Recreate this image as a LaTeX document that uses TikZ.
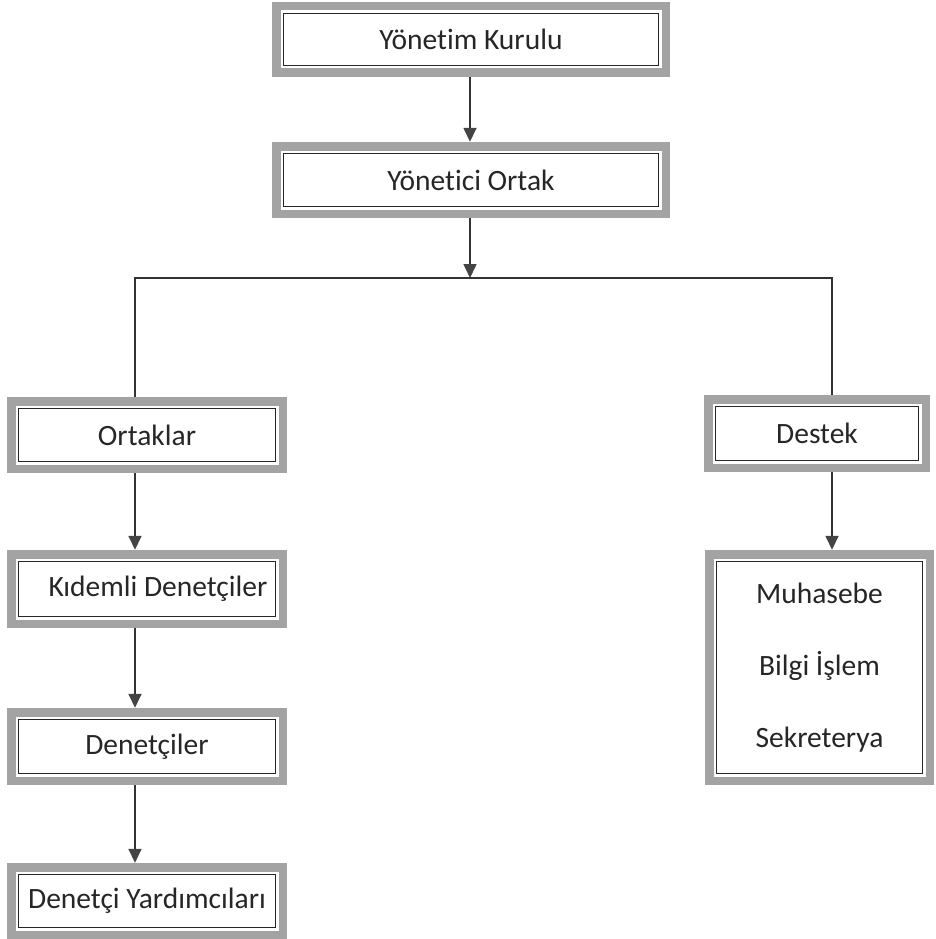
\documentclass[tikz,border=0pt]{standalone}
\usepackage{fontspec}
\setmainfont[Ligatures=NoCommon]{Carlito}
\usetikzlibrary{arrows.meta}
\definecolor{framegray}{HTML}{A3A3A3}
\definecolor{linegray}{HTML}{333333}
\definecolor{tipgray}{HTML}{444444}
\tikzset{
  frame/.style={rectangle, fill=framegray, inner sep=0pt, text=black!85,
    font=\fontsize{29.5}{34}\selectfont,
    path picture={
      \fill[white] ([shift={(8.5pt,-8.5pt)}]path picture bounding box.north west) rectangle ([shift={(-8.5pt,8.5pt)}]path picture bounding box.south east);
      \draw[black!85, line width=1.5pt] ([shift={(11.5pt,-11.5pt)}]path picture bounding box.north west) rectangle ([shift={(-11.5pt,11.5pt)}]path picture bounding box.south east);
    }},
  conn/.style={draw=linegray, line width=1.6pt},
  arr/.style={conn, -{Triangle[width=13pt,length=14pt,fill=tipgray,color=tipgray]}}
}
\begin{document}
\begin{tikzpicture}[x=1pt,y=-1pt]
\useasboundingbox (0,0) rectangle (936,939);
\node[frame, minimum width=398pt, minimum height=75pt] (yk) at (471,39.5) {Yönetim Kurulu};
\node[frame, minimum width=398pt, minimum height=76pt] (yo) at (471,180) {Yönetici Ortak};
\node[frame, minimum width=280pt, minimum height=76pt] (ort) at (147,435) {Ortaklar};
\node[frame, minimum width=226pt, minimum height=77pt] (des) at (817,433.5) {Destek};
\node[frame, minimum width=280pt, minimum height=78pt] (kid) at (147,589) {\hspace*{22pt}Kıdemli Denetçiler};
\node[frame, minimum width=280pt, minimum height=77pt] (den) at (147,746.5) {Denetçiler};
\node[frame, minimum width=280pt, minimum height=76pt] (yar) at (147,901) {Denetçi Yardımcıları};
\node[frame, minimum width=229pt, minimum height=235pt, align=center,
      font=\fontsize{29.5}{72}\selectfont] (alt) at (819.5,667.5) {Muhasebe\\Bilgi İşlem\\Sekreterya};
\coordinate (j) at (470,278);
\coordinate (jl) at (135,278);
\coordinate (jr) at (832,278);
\draw[arr] (yk.south -| j) -- (yo.north -| j);
\draw[arr] (yo.south -| j) -- (j);
\draw[conn] (ort.north -| jl) -- (jl) -- (jr) -- (des.north -| jr);
\draw[arr] (ort.south -| jl) -- (kid.north -| jl);
\draw[arr] (kid.south -| jl) -- (den.north -| jl);
\draw[arr] (den.south -| jl) -- (yar.north -| jl);
\draw[arr] (des.south -| jr) -- (alt.north -| jr);
\end{tikzpicture}
\end{document}
